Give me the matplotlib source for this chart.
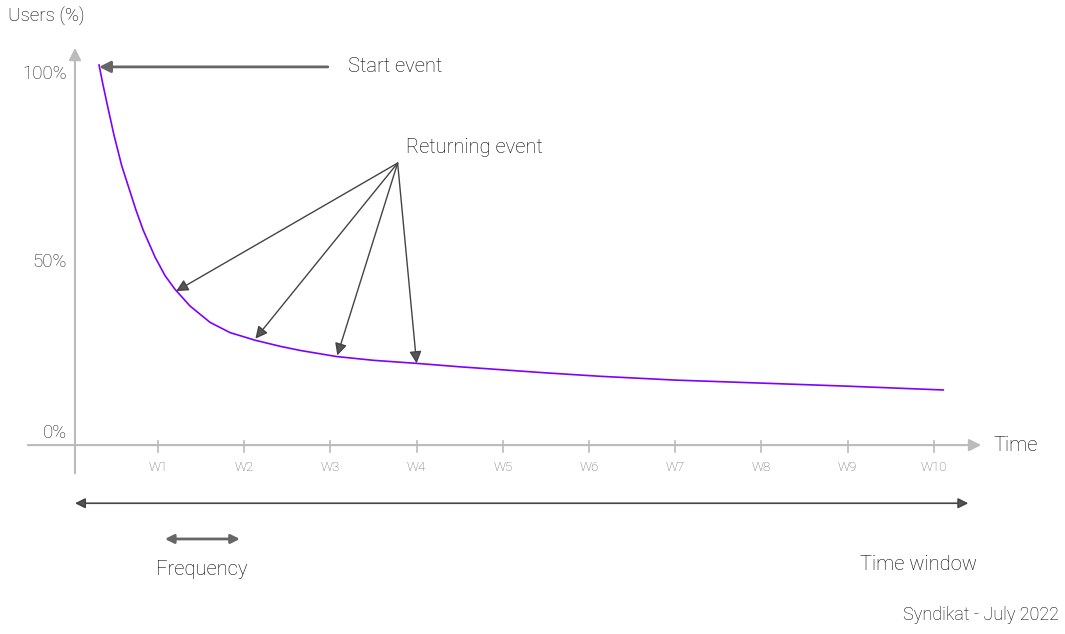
import numpy as np
import matplotlib.pyplot as plt

plt.rcParams['font.family'] = ['Roboto', 'DejaVu Sans']
plt.rcParams['font.weight'] = 'light'

# retention curve (week, % of users)
weeks = [0.316, 0.36, 0.412, 0.49, 0.579, 0.745, 0.829, 0.965, 1.081, 1.197,
         1.371, 1.603, 1.835, 2.125, 2.415, 2.65, 3.07, 3.5, 4.0, 4.5, 5.0,
         5.5, 6.13, 7.0, 8.01, 9.0, 10.11]
users = [100, 95.0, 89.5, 81.5, 73.5, 61.8, 56.5, 49.5, 44.6, 41.0,
         36.6, 32.3, 29.6, 27.6, 26.0, 24.9, 23.3, 22.3, 21.5, 20.6, 19.8,
         19.0, 18.1, 17.1, 16.3, 15.5, 14.5]

tick_weeks = [1, 2, 3, 4, 5, 6, 7, 8, 9, 10]
tick_labels = ['W1', 'W2', 'W3', 'W4', 'W5', 'W6', 'W7', 'W8', 'W9', 'W10']
ylabel_values = [0, 50, 100]
ylabel_texts = ['0%', '50%', '100%']

# returning event arrows point to these spots on the curve
return_weeks = [1.21, 2.13, 3.08, 4.0]
return_users = [40.5, 28.0, 23.6, 21.5]

fig = plt.figure(figsize=(10.65, 6.34), dpi=100)
ax = fig.add_axes([0, 0, 1, 1])
ax.set_xlim(-0.833, 11.522)
ax.set_ylim(-49.7, 117.1)
ax.axis('off')

axis_c = '#bbbbbb'
txt_c = '#000000'

# axes with arrow heads
ax.annotate('', xy=(0.037, 104.5), xytext=(0.037, -7.4),
            arrowprops=dict(arrowstyle='-|>', color=axis_c, lw=1.5,
                            mutation_scale=18, shrinkA=0, shrinkB=0))
ax.annotate('', xy=(10.55, 0), xytext=(-0.51, 0),
            arrowprops=dict(arrowstyle='-|>', color=axis_c, lw=1.5,
                            mutation_scale=18, shrinkA=0, shrinkB=0))

for w, lab in zip(tick_weeks, tick_labels):
    ax.plot([w, w], [1.0, -1.8], color=axis_c, lw=1.2)
    ax.text(w, -5.8, lab, ha='center', va='center', fontsize=9.5, color='#666666')

offsets = [12, -7, -9]
for v, lab, off in zip(ylabel_values, ylabel_texts, offsets):
    ax.annotate(lab, xy=(-0.06, v), xytext=(0, off), textcoords='offset pixels',
                ha='right', va='center', fontsize=13.5, color='#222222')

ax.plot(weeks, users, color='#7f00ff', lw=1.2)

# start event
ax.annotate('', xy=(weeks[0], 99.5), xytext=(2.97, 99.5),
            arrowprops=dict(arrowstyle='-|>', color='#666666', lw=2,
                            mutation_scale=17, shrinkA=0, shrinkB=0))
ax.text(3.2, 99.5, 'Start event', ha='left', va='center', fontsize=14.5, color=txt_c)

# returning event
for rw, ru in zip(return_weeks, return_users):
    ax.annotate('', xy=(rw, ru), xytext=(3.78, 74.2),
                arrowprops=dict(arrowstyle='-|>', color='#444444', lw=1,
                                mutation_scale=18, shrinkA=0, shrinkB=0,
                                fc='#555555'))
ax.text(3.88, 78.4, 'Returning event', ha='left', va='center', fontsize=14.5, color=txt_c)

# time window / frequency
ax.annotate('', xy=(10.40, -15.3), xytext=(0.037, -15.3),
            arrowprops=dict(arrowstyle='<|-|>', color='#444444', lw=1.2,
                            mutation_scale=15, shrinkA=0, shrinkB=0, fc='#555555'))
ax.annotate('', xy=(1.95, -24.7), xytext=(1.08, -24.7),
            arrowprops=dict(arrowstyle='<|-|>', color='#666666', lw=2,
                            mutation_scale=13, shrinkA=0, shrinkB=0))
ax.text(1.51, -32.6, 'Frequency', ha='center', va='center', fontsize=14.5, color=txt_c)
ax.text(9.82, -31.3, 'Time window', ha='center', va='center', fontsize=14.5, color=txt_c)
ax.text(10.69, 0, 'Time', ha='left', va='center', fontsize=14.5, color=txt_c)

fig.text(8 / 1065, 1 - 17 / 634, 'Users (%)', ha='left', va='center', fontsize=13.5, color=txt_c)
fig.text(1059 / 1065, 1 - 615 / 634, 'Syndikat - July 2022', ha='right', va='center',
         fontsize=13, color=txt_c)

fig.savefig('out.png', dpi=100)
